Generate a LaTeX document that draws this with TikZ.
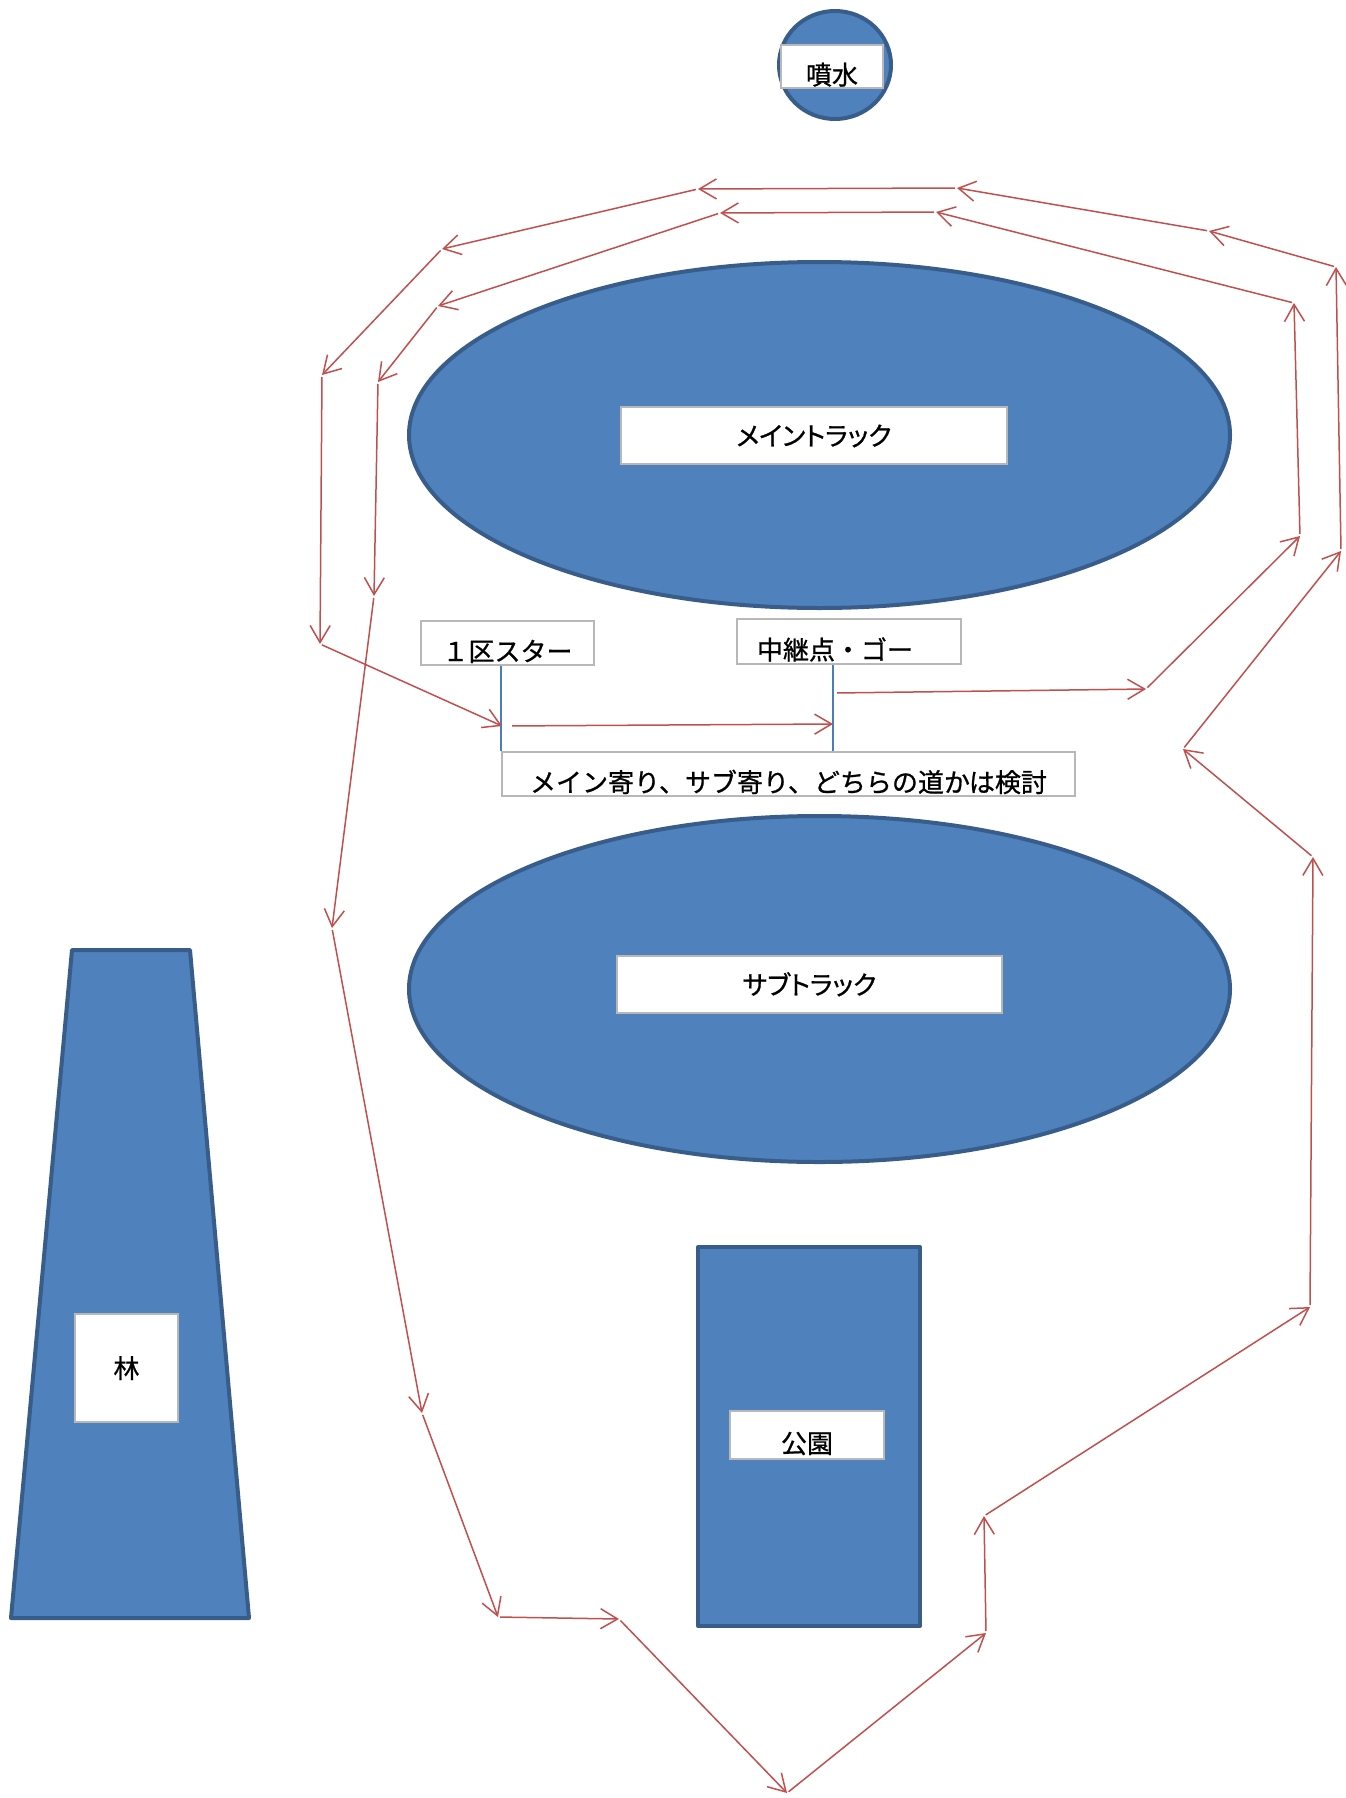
\documentclass[tikz,border=0pt]{standalone}
\usepackage{fontspec}
\newfontfamily\jp{Noto Sans CJK JP}[FakeBold=0.8]
\newfontfamily\jpp{Noto Sans CJK JP}[RawFeature={+palt},FakeBold=0.8]
\usetikzlibrary{arrows.meta}
\definecolor{fillblue}{HTML}{4F81BD}
\definecolor{edgeblue}{HTML}{385D8A}
\definecolor{boxgray}{HTML}{B8B8B8}
\definecolor{routered}{HTML}{C0504D}
\definecolor{tickblue}{HTML}{4A7EBB}
\begin{document}
\begin{tikzpicture}[x=0.5pt,y=-0.5pt,
  area/.style={draw=edgeblue,fill=fillblue,line width=2pt,line join=round},
  box/.style={draw=boxgray,fill=white,line width=1pt,inner sep=0pt,
    font=\jp\fontsize{13pt}{15pt}\selectfont,text height=11.5pt,text depth=1.5pt},
  prop/.style={font=\jpp\fontsize{13pt}{15pt}\selectfont},
  low/.style={text height=18pt,text depth=0pt},
  route/.style={draw=routered,line width=0.75pt,shorten <=1pt,
    -{Straight Barb[length=8.5pt,width=10pt]}},
  tick/.style={draw=tickblue,line width=0.75pt}]
\useasboundingbox (0,0) rectangle (1345,1798);
% areas
\draw[area] (835,65) ellipse [x radius=28pt,y radius=27pt];
\draw[area] (819.5,435) ellipse [x radius=205.25pt,y radius=86.5pt];
\draw[area] (819.5,989) ellipse [x radius=205.25pt,y radius=86.5pt];
\draw[area] (72,950) -- (190,950) -- (249,1618) -- (11,1618) -- cycle;
\draw[area] (698,1247) rectangle (920,1626);
% labels
\node[box,low,minimum width=51pt,minimum height=21.5pt](FW) at (832,66.5){噴水};
\node[box,prop,minimum width=193pt,minimum height=28.5pt](MT) at (814,435.5){メイントラック};
\node[box,prop,minimum width=192.5pt,minimum height=28.5pt](ST) at (809.5,984.5){サブトラック};
\node[box,minimum width=51.5pt,minimum height=54pt](WD) at (126.5,1368){林};
\node[box,low,minimum width=77pt,minimum height=24pt](PK) at (807,1435){公園};
\node[box,low,minimum width=86.5pt,minimum height=22pt](S1) at (507.5,643){１区スター};
\node[box,low,minimum width=112pt,minimum height=22.5pt](RL) at (849,641.5){中継点・ゴー\kern14pt};
\node[box,low,minimum width=286.5pt,minimum height=22pt](NT) at (788.5,774){メイン寄り、サブ寄り、どちらの道かは検討};
% route points
\coordinate (P1) at (320,644);
\coordinate (P2) at (502,726);
\coordinate (P3) at (833,724);
\coordinate (P4) at (835,693);
\coordinate (P5) at (1146,689);
\coordinate (P6) at (1300,536);
\coordinate (P7) at (1294,303);
\coordinate (P8) at (936,212);
\coordinate (P9) at (720,213);
\coordinate (P10) at (438,306);
\coordinate (P11) at (378,382);
\coordinate (P12) at (374,596);
\coordinate (P13) at (332,928);
\coordinate (P14) at (422,1413);
\coordinate (P15) at (498,1617);
\coordinate (P16) at (619,1619);
\coordinate (P17) at (787,1793);
\coordinate (P18) at (986,1633);
\coordinate (P19) at (984,1516);
\coordinate (P20) at (1310,1307);
\coordinate (P21) at (1313,857);
\coordinate (P22) at (1183,749);
\coordinate (P23) at (1341,551);
\coordinate (P24) at (1336,267);
\coordinate (P25) at (1209,231);
\coordinate (P26) at (957,188);
\coordinate (P27) at (698,189);
\coordinate (P28) at (442,249);
\coordinate (P29) at (322,375);
% start and relay marks
\draw[tick] (NT.north west) -- (NT.north west |- S1.south);
\draw[tick] (P3 |- NT.north) -- (P3 |- RL.south);
% route
\draw[route,shorten <=5pt] (P2) -- (P3);
\draw[route] (P4) -- (P5);
\draw[route] (P5) -- (P6);
\draw[route] (P6) -- (P7);
\draw[route] (P7) -- (P8);
\draw[route] (P8) -- (P9);
\draw[route] (P9) -- (P10);
\draw[route] (P10) -- (P11);
\draw[route] (P11) -- (P12);
\draw[route] (P12) -- (P13);
\draw[route] (P13) -- (P14);
\draw[route] (P14) -- (P15);
\draw[route] (P15) -- (P16);
\draw[route] (P16) -- (P17);
\draw[route] (P17) -- (P18);
\draw[route] (P18) -- (P19);
\draw[route] (P19) -- (P20);
\draw[route] (P20) -- (P21);
\draw[route] (P21) -- (P22);
\draw[route] (P22) -- (P23);
\draw[route] (P23) -- (P24);
\draw[route] (P24) -- (P25);
\draw[route] (P25) -- (P26);
\draw[route] (P26) -- (P27);
\draw[route] (P27) -- (P28);
\draw[route] (P28) -- (P29);
\draw[route] (P29) -- (P1);
\draw[route] (P1) -- (P2);
\end{tikzpicture}
\end{document}
